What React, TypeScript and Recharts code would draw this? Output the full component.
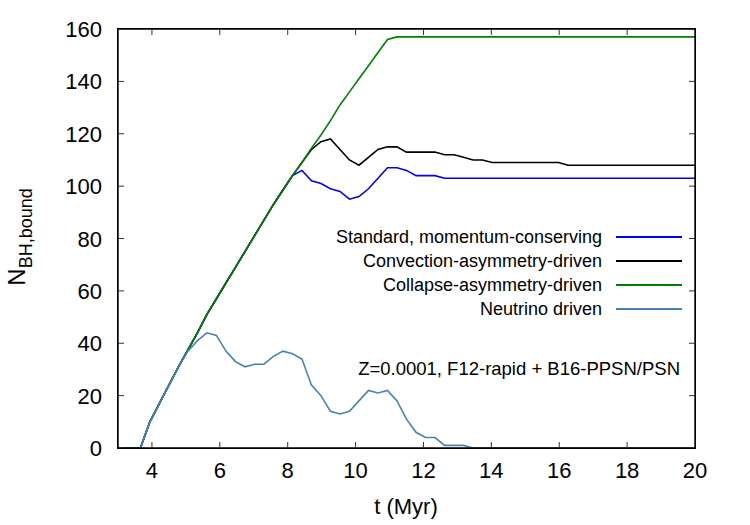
import { LineChart, Line, XAxis, YAxis, Legend } from "recharts"

// time in Myr
const T = [
  3.0, 3.38, 3.66, 3.94, 4.22, 4.5, 4.78, 5.06, 5.34, 5.62,
  5.9, 6.18, 6.46, 6.74, 7.02, 7.3, 7.58, 7.86, 8.14, 8.42,
  8.7, 8.98, 9.26, 9.54, 9.82, 10.1, 10.38, 10.66, 10.94, 11.22,
  11.5, 11.78, 12.06, 12.34, 12.62, 12.9, 13.18, 13.46, 13.74, 14.02,
  14.3, 14.58, 14.86, 15.14, 15.42, 15.7, 15.98, 16.26, 16.54, 16.82,
  17.1, 17.38, 17.66, 17.94, 18.22, 18.5, 18.78, 19.06, 19.34, 19.62,
  19.9, 20.0,
]

const STANDARD = [
  0, 0, 0, 10, 17, 24, 31, 37.5, 44, 51,
  57, 63, 69, 75, 81, 87, 93, 98.5, 104, 106,
  102, 101, 99, 98, 95, 96, 99, 103, 107, 107,
  106, 104, 104, 104, 103, 103, 103, 103, 103, 103,
  103, 103, 103, 103, 103, 103, 103, 103, 103, 103,
  103, 103, 103, 103, 103, 103, 103, 103, 103, 103,
  103, 103,
]

const CONVECTION = [
  0, 0, 0, 10, 17, 24, 31, 37.5, 44, 51,
  57, 63, 69, 75, 81, 87, 93, 98.5, 104, 109,
  114, 117, 118, 114, 110, 108, 111, 114, 115, 115,
  113, 113, 113, 113, 112, 112, 111, 110, 110, 109,
  109, 109, 109, 109, 109, 109, 109, 108, 108, 108,
  108, 108, 108, 108, 108, 108, 108, 108, 108, 108,
  108, 108,
]

const COLLAPSE = [
  0, 0, 0, 10, 17, 24, 31, 37.5, 44, 51,
  57, 63, 69, 75, 81, 87, 93, 98.5, 104, 109,
  114.5, 119.5, 125, 131, 136, 141, 146, 151, 156, 157,
  157, 157, 157, 157, 157, 157, 157, 157, 157, 157,
  157, 157, 157, 157, 157, 157, 157, 157, 157, 157,
  157, 157, 157, 157, 157, 157, 157, 157, 157, 157,
  157, 157,
]

const NEUTRINO = [
  0, 0, 0, 10, 17, 24, 31, 37, 41, 44,
  43, 37, 33, 31, 32, 32, 35, 37, 36, 34,
  24, 20, 14, 13, 14, 18, 22, 21, 22, 18,
  11, 6, 4, 4, 1, 1, 1, 0, 0, 0,
  0, 0, 0, 0, 0, 0, 0, 0, 0, 0,
  0, 0, 0, 0, 0, 0, 0, 0, 0, 0,
  0, 0,
]

const X_TICKS = [4, 6, 8, 10, 12, 14, 16, 18, 20]
const Y_TICKS = [0, 20, 40, 60, 80, 100, 120, 140, 160]

// the collapse curve is plotted against the mirror axes (same domains) so those axes get a scale
const SERIES = [
  { key: "standard", name: "Standard, momentum-conserving", color: "#0000ff", xId: "bottom", yId: "left" },
  { key: "convection", name: "Convection-asymmetry-driven", color: "#000000", xId: "bottom", yId: "left" },
  { key: "collapse", name: "Collapse-asymmetry-driven", color: "#008000", xId: "top", yId: "right" },
  { key: "neutrino", name: "Neutrino driven", color: "#4682b4", xId: "bottom", yId: "left" },
]

const data = T.map((t, i) => ({
  t,
  standard: STANDARD[i],
  convection: CONVECTION[i],
  collapse: COLLAPSE[i],
  neutrino: NEUTRINO[i],
}))

const FONT = "'Liberation Sans', Arial, Helvetica, sans-serif"
const TICK = "#333"

const BottomTick = ({ x, y, payload }: any) => (
  <g>
    <line x1={x} x2={x} y1={y} y2={y - 6} stroke={TICK} />
    <text x={x} y={y + 30} textAnchor="middle" fontSize={22} fontFamily={FONT} fill="#000">
      {payload.value}
    </text>
  </g>
)

const LeftTick = ({ x, y, payload }: any) => (
  <g>
    <line x1={x} x2={x + 6} y1={y} y2={y} stroke={TICK} />
    <text x={x - 16} y={y + 8} textAnchor="end" fontSize={22} fontFamily={FONT} fill="#000">
      {payload.value}
    </text>
  </g>
)

// mirrored tick marks along the top and right edges of the frame
const TopTick = ({ x, y }: any) => (
  <g>
    <line x1={x} x2={x} y1={y} y2={y + 6} stroke={TICK} />
  </g>
)
const RightTick = ({ x, y }: any) => (
  <g>
    <line x1={x} x2={x - 6} y1={y} y2={y} stroke={TICK} />
  </g>
)

const YTitle = () => (
  <text transform="translate(25,237) rotate(-90)" textAnchor="middle" fontFamily={FONT} fill="#000">
    <tspan fontSize={24}>N</tspan>
    <tspan fontSize={18} dy={7}>BH,bound</tspan>
  </text>
)

const XTitle = () => (
  <text x={406} y={514} textAnchor="middle" fontSize={22} fontFamily={FONT} fill="#000">
    t (Myr)
  </text>
)

const LegendBox = () => (
  <div style={{ fontFamily: FONT, fontSize: 18, color: "#000" }}>
    {SERIES.map((s) => (
      <div
        key={s.key}
        style={{ display: "flex", alignItems: "center", justifyContent: "flex-end", height: 24, lineHeight: "24px" }}
      >
        <span>{s.name}</span>
        <span style={{ display: "inline-block", width: 66, marginLeft: 14, borderTop: `2px solid ${s.color}` }} />
      </div>
    ))}
  </div>
)

const axisLine = { stroke: "#000", strokeWidth: 1.4 }

export default function App() {
  return (
    <div style={{ position: "absolute", left: 0, top: 0, width: 750, height: 525, background: "#fff" }}>
      <LineChart width={750} height={525} data={data} margin={{ top: 19, right: 15, bottom: 0, left: 0 }}>
        <XAxis
          xAxisId="bottom"
          dataKey="t"
          type="number"
          domain={[3, 20]}
          ticks={X_TICKS}
          height={77}
          tickSize={0}
          tickMargin={0}
          tickLine={false}
          axisLine={axisLine}
          tick={<BottomTick />}
          interval={0}
          label={{ content: () => <XTitle /> }}
        />
        <XAxis
          xAxisId="top"
          orientation="top"
          dataKey="t"
          type="number"
          domain={[3, 20]}
          ticks={X_TICKS}
          height={10}
          tickSize={0}
          tickMargin={0}
          tickLine={false}
          axisLine={axisLine}
          tick={<TopTick />}
          interval={0}
        />
        <YAxis
          yAxisId="left"
          type="number"
          domain={[0, 160]}
          ticks={Y_TICKS}
          width={118}
          tickSize={0}
          tickMargin={0}
          tickLine={false}
          axisLine={axisLine}
          tick={<LeftTick />}
          interval={0}
          label={{ content: () => <YTitle /> }}
        />
        <YAxis
          yAxisId="right"
          orientation="right"
          type="number"
          domain={[0, 160]}
          ticks={Y_TICKS}
          width={40}
          tickSize={0}
          tickMargin={0}
          tickLine={false}
          axisLine={axisLine}
          tick={<RightTick />}
          interval={0}
        />
        {SERIES.map((s) => (
          <Line
            key={s.key}
            xAxisId={s.xId}
            yAxisId={s.yId}
            dataKey={s.key}
            name={s.name}
            stroke={s.color}
            strokeWidth={1.6}
            dot={false}
            activeDot={false}
            isAnimationActive={false}
          />
        ))}
        <Legend
          layout="vertical"
          align="center"
          verticalAlign="middle"
          content={() => <LegendBox />}
          wrapperStyle={{ left: 284, top: 225, width: 398 }}
        />
      </LineChart>
      {/* plot frame */}
      <div
        style={{
          position: "absolute",
          left: 117.3,
          top: 28.3,
          width: 578.4,
          height: 420.4,
          boxSizing: "border-box",
          border: "1.4px solid #000",
          pointerEvents: "none",
        }}
      />
      <div
        style={{
          position: "absolute",
          right: 70,
          top: 360,
          fontFamily: FONT,
          fontSize: 18.5,
          lineHeight: 1,
          whiteSpace: "nowrap",
          color: "#000",
        }}
      >
        Z=0.0001, F12-rapid + B16-PPSN/PSN
      </div>
    </div>
  )
}
